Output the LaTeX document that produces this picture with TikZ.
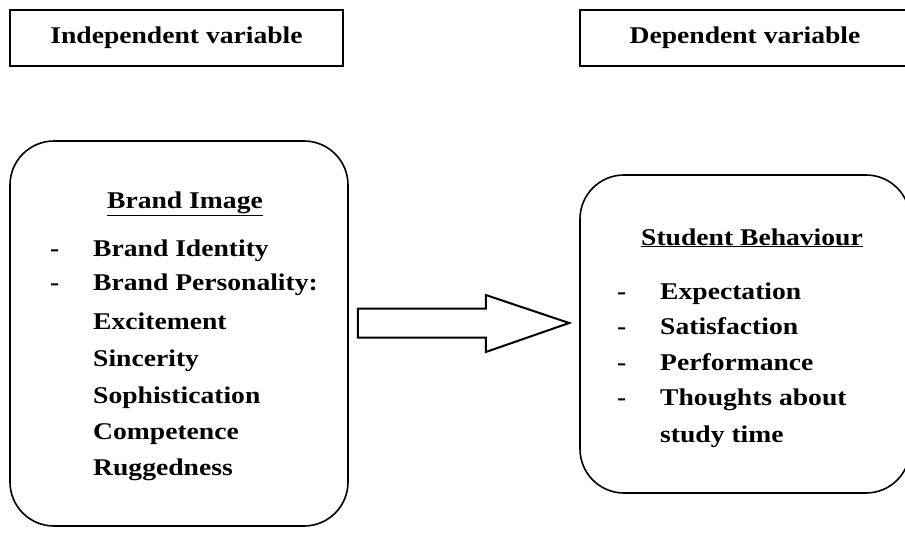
\documentclass[tikz,border=0pt]{standalone}
\usepackage{fontspec}
\setmainfont{Liberation Serif}[FakeStretch=1.15]
\usetikzlibrary{calc}
\begin{document}
\begin{tikzpicture}[x=1pt,y=-1pt,
  hbox/.style={draw,line width=1.5pt,inner sep=0pt,font=\fontsize{24}{26}\selectfont\bfseries},
  rbox/.style={draw,line width=1.6pt,rounded corners=44pt,inner sep=0pt},
  itm/.style={anchor=base west,inner sep=0pt,font=\fontsize{24}{26}\selectfont\bfseries},
  ttl/.style={anchor=base,inner sep=0pt,font=\fontsize{24}{26}\selectfont\bfseries},
  arr/.style={draw,line width=2pt,line join=miter}]
\useasboundingbox (0,0) rectangle (905,536);
\clip (0,0) rectangle (905,536);
% header boxes
\node[hbox,minimum width=333pt,minimum height=56pt] (ind) at (176.5,38) {Independent variable};
\node[hbox,minimum width=330pt,minimum height=56pt] (dep) at (745,38) {Dependent variable};
% rounded boxes
\node[rbox,minimum width=338pt,minimum height=385pt] (bi) at (179,333.5) {};
\node[rbox,minimum width=330pt,minimum height=318pt] (sb) at (745,334) {};
% left content
\node[ttl] (bit) at (185,208) {\underline{Brand Image}};
\node[itm] (d1) at (50,256) {-};
\node[itm] (l1) at (93,256) {Brand Identity};
\node[itm] (d2) at (50,290) {-};
\node[itm] (l2) at (93,290) {Brand Personality:};
\node[itm] (l3) at (93,329) {Excitement};
\node[itm] (l4) at (93,366) {Sincerity};
\node[itm] (l5) at (93,403) {Sophistication};
\node[itm] (l6) at (93,439) {Competence};
\node[itm] (l7) at (93,475) {Ruggedness};
% right content
\node[ttl] (sbt) at (752,245) {\underline{Student Behaviour}};
\node[itm] (e1) at (617,299) {-};
\node[itm] (r1) at (660,299) {Expectation};
\node[itm] (e2) at (617,334) {-};
\node[itm] (r2) at (660,334) {Satisfaction};
\node[itm] (e3) at (617,370) {-};
\node[itm] (r3) at (660,370) {Performance};
\node[itm] (e4) at (617,405) {-};
\node[itm] (r4) at (660,405) {Thoughts about};
\node[itm] (r5) at (660,442) {study time};
% block arrow from Brand Image box to Student Behaviour box
\coordinate (as) at ([xshift=9pt,yshift=10.5pt]bi.east);
\coordinate (at) at ([xshift=-10pt,yshift=11pt]sb.west);
\draw[arr] ($(as)+(0,-14.5)$) -- ($(as)+(128,-14.5)$) -- ($(as)+(128,-28)$)
  -- (at) -- ($(as)+(128,29)$) -- ($(as)+(128,14.5)$) -- ($(as)+(0,14.5)$) -- cycle;
\end{tikzpicture}
\end{document}
